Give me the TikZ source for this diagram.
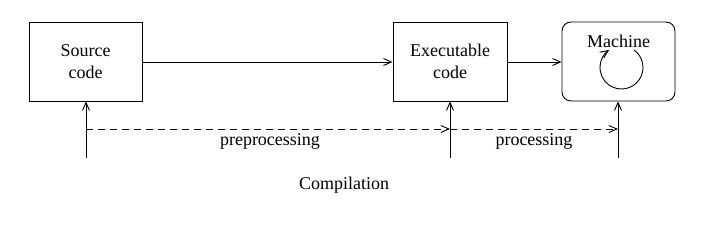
\documentclass[tikz,border=0pt]{standalone}
\usepackage{fontspec}
\setmainfont{Liberation Serif}
\newfontfamily\timesfont{Liberation Serif}
\usetikzlibrary{arrows.meta}
\begin{document}
\begin{tikzpicture}[x=1pt,y=1pt,
  every node/.style={font=\timesfont\fontsize{18}{22}\selectfont},
  box/.style={draw,line width=0.9pt,minimum width=113pt,minimum height=79pt,inner sep=0pt,align=center},
  conn/.style={line width=0.9pt,-{Straight Barb[length=8pt,width=7pt,line width=0.9pt]}},
  dconn/.style={conn,dash pattern=on 7pt off 5pt},
  plain/.style={line width=0.9pt}]
\useasboundingbox (0,0) rectangle (710,248);
\node[box] (src) at (85.5,186.5) {Source\\code};
\node[box,minimum width=114pt] (exe) at (450,186.5) {Executable\\code};
\node[box,rounded corners=9pt] (mach) at (618.5,186.5) {};
\node (machlbl) at (618.5,207) {Machine};
\draw[conn] (src.east |- 0,186) -- (exe.west |- 0,186);
\draw[conn] (exe.east |- 0,186) -- (mach.west |- 0,186);
\coordinate (b1) at (86,90);
\coordinate (b2) at (450,90);
\coordinate (b3) at (618,90);
\coordinate (d1) at (86,119);
\coordinate (d2) at (450,119);
\coordinate (d3) at (618,119);
\draw[conn] (b1) -- (src.south -| b1);
\draw[conn] (b2) -- (exe.south -| b2);
\draw[conn] (b3) -- (mach.south -| b3);
\draw[dconn] (d1) -- (d2);
\draw[dconn] (d2) -- (d3);
\node (pre) at (270,107) {preprocessing};
\node (proc) at (534,107) {processing};
\node (comp) at (344,63) {Compilation};
\coordinate (cc) at (621.5,180.5);
\draw[conn] ([shift={(55:21.5)}]cc) arc[start angle=55,end angle=-235,radius=21.5];
\end{tikzpicture}
\end{document}
